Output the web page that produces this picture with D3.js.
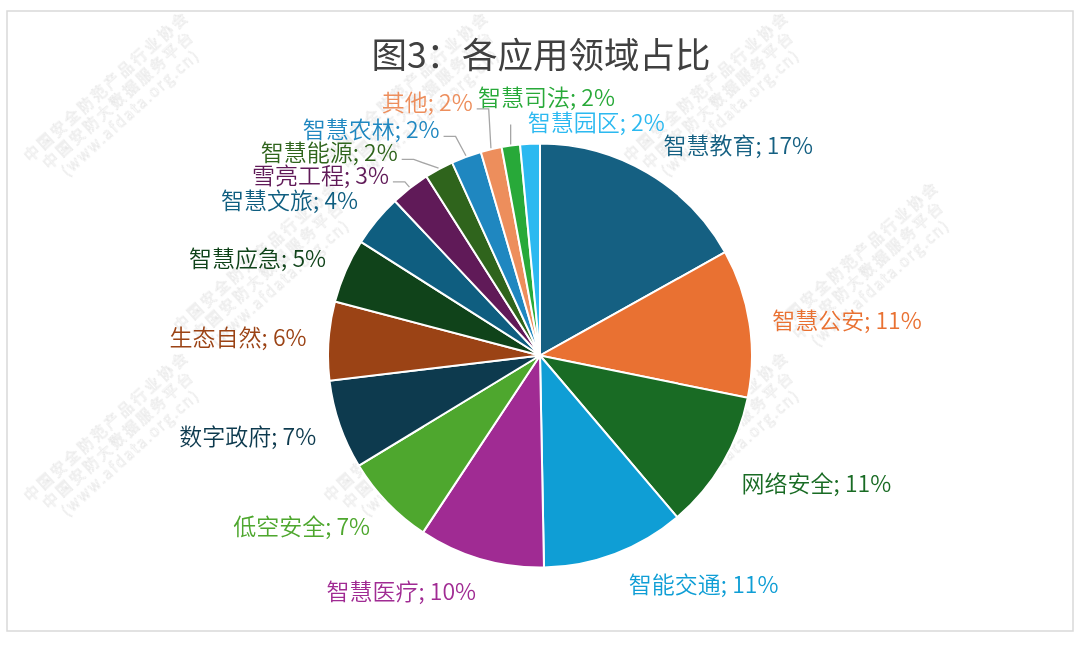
<!DOCTYPE html>
<html><head><meta charset="utf-8">
<script src="https://cdn.jsdelivr.net/npm/d3@7"></script>
<style>body{margin:0;background:#fff}svg{display:block}</style>
</head><body>
<svg id="c" width="1080" height="657"></svg>
<script>
// ---- data ----
const categories = ["智慧教育","智慧公安","网络安全","智能交通","智慧医疗","低空安全","数字政府","生态自然","智慧应急","智慧文旅","雪亮工程","智慧能源","智慧农林","其他","智慧司法","智慧园区"];
const shares = [16.9,11.3,10.6,10.9,9.6,7.0,6.8,6.0,4.9,4.0,3.0,2.2,2.3,1.6,1.4,1.5];
const percentLabels = ["17%","11%","11%","11%","10%","7%","7%","6%","5%","4%","3%","2%","2%","2%","2%","2%"];
const colors = ["#156082","#E97132","#196B24","#0F9ED5","#A02B93","#4EA72E","#0D3A4E","#9B4315","#10431A","#0F5E80","#601A58","#2F641C","#1F87C0","#ED8E5C","#28A939","#2CB9F0"];
const titleText = "图3：各应用领域占比";
const watermarkLines = ["中国安全防范产品行业协会","中国安防大数据服务平台","(www.afdata.org.cn)"];

// ---- layout ----
const cx = 540, cy = 355.5, R = 212, labelR = 240;
const FONT = "'Noto Sans CJK SC','Noto Sans',sans-serif";
// manual label nudges (like dragged Excel labels) [dx, dy, anchor, leader]
const nudge = {
  "雪亮工程":[-4,8,"end",true], "智慧能源":[-28,7,"end",true], "智慧农林":[-17,-2,"end",true],
  "其他":[-12,-21,"end",true], "智慧司法":[-29,-22,"start",true], "智慧园区":[-1,5,"start",false],
  "智能交通":[4,3,"start",false], "智慧公安":[-5,0,"start",false], "网络安全":[-5,4,"start",false],
  "生态自然":[6,-3,"end",false], "智慧应急":[6,-3,"end",false]
};

const svg = d3.select("#c");
svg.append("rect").attr("x",7).attr("y",11).attr("width",1066).attr("height",620)
  .attr("fill","#fff").attr("stroke","#d9d9d9").attr("stroke-width",1.5);

// faint watermark layer (only tiles that fit inside the frame)
const wm = svg.append("g").attr("opacity",0.4).attr("pointer-events","none");
for(let j=0;j<4;j++){
  for(let i=0;i<4;i++){
    const x = 110 + i*300 + (j%2)*150, y = 90 + j*170;
    const tg = wm.append("g").attr("transform",`translate(${x},${y}) rotate(-42)`);
    watermarkLines.forEach((s,k)=>{
      tg.append("text").attr("x",0).attr("y",k*18).attr("text-anchor","middle")
        .attr("font-family",FONT).attr("font-size",15).attr("fill","none")
        .attr("stroke","#b4b4b4").attr("stroke-width",0.5).attr("letter-spacing",k===2?2:3).text(s);
    });
    const b = tg.node().getBoundingClientRect();
    if(b.left < 0 || b.top < 0 || b.right > 1080 || b.bottom > 657) tg.remove();
  }
}

svg.append("text").attr("x",541).attr("y",52).attr("text-anchor","middle")
  .attr("dominant-baseline","central").attr("font-family",FONT).attr("font-size",35.5)
  .attr("fill","#404040").text(titleText);

const data = categories.map((c,i)=>({cat:c, v:shares[i], pct:percentLabels[i], color:colors[i]}));
const pie = d3.pie().value(d=>d.v).sort(null);
const arcs = pie(data);
const arc = d3.arc().innerRadius(0).outerRadius(R);

const g = svg.append("g").attr("transform",`translate(${cx},${cy})`);
g.selectAll("path").data(arcs).join("path")
  .attr("d",arc).attr("fill",d=>d.data.color).attr("stroke","#fff").attr("stroke-width",2);

const polar = (a,r)=>[Math.sin(a)*r, -Math.cos(a)*r];
const lg = g.append("g");
arcs.forEach(d=>{
  const mid = (d.startAngle+d.endAngle)/2;
  const [px,py] = polar(mid,labelR);
  const right = mid < Math.PI;
  let anchor = right ? "start" : "end";
  let dx = right ? 2 : 3, dy = -4.5*Math.cos(mid) - 0.5;
  const n = nudge[d.data.cat];
  if(n){ dx = n[0]; dy = n[1]; anchor = n[2]; }
  const tx = px+dx, ty = py+dy;
  const t = lg.append("text").attr("x",tx).attr("y",ty).attr("text-anchor",anchor)
    .attr("dominant-baseline","central").attr("font-family",FONT).attr("font-size",23)
    .attr("font-weight",350)
    .attr("fill",d.data.color).text(d.data.cat+"; "+d.data.pct);
  if(n && n[3]){
    const [ax,ay] = polar(mid,R+1);
    const bb = t.node().getBBox();
    let pts;
    if(ax > bb.x && ax < bb.x+bb.width){
      pts = [[ax,ay],[ax,ay-20]];
    } else {
      const Tx = bb.x+bb.width+4, Ty = ty+8;
      pts = [[ax,ay],[Math.min(Tx+12,ax),Ty],[Tx,Ty]];
    }
    lg.insert("path","text").attr("d",d3.line()(pts)).attr("fill","none")
      .attr("stroke","#a6a6a6").attr("stroke-width",1.3);
  }
});
</script>
</body></html>
